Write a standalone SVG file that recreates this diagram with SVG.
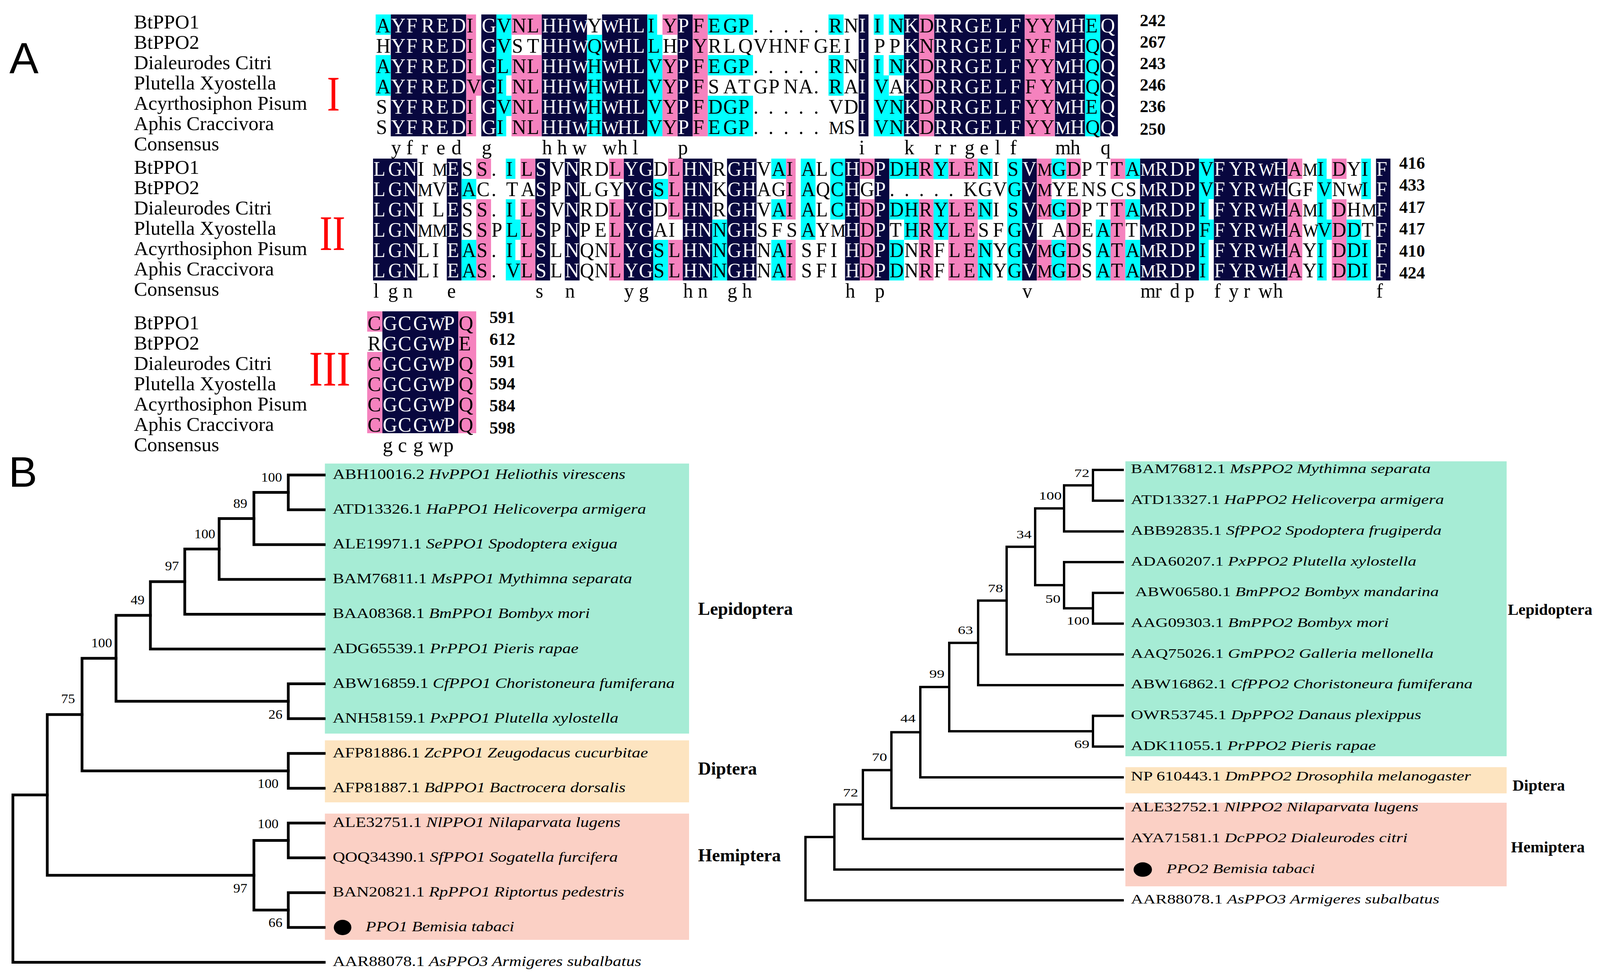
<svg xmlns="http://www.w3.org/2000/svg" width="4146" height="2496" viewBox="0 0 4146 2496">
<style>
text{font-family:"Liberation Serif","Times New Roman",serif}
.lbl{font-size:51px}
.sq{font-size:53px;fill:#000}
.sw{fill:#fff}
.wm{font-size:46px}
.num{font-size:44px;font-weight:bold}
.rom{font-size:128px;fill:#f00}
.pan{font-family:"Liberation Sans",Arial,sans-serif;font-size:112px}
.N{fill:#08073f}.P{fill:#f582be}.C{fill:#00ffff}
.lf{font-size:36px}.rf{font-size:33px}
.bl{font-size:33px;text-anchor:end}.bR{font-size:30px;text-anchor:end}
.cl{font-size:46px;font-weight:bold}
.clr{font-size:41px;font-weight:bold}
.it{font-style:italic}
.br{fill:none;stroke:#000;stroke-width:7;stroke-linecap:square}
.brr{fill:none;stroke:#000;stroke-width:6;stroke-linecap:square}
.gr{fill:#a6ecd5}.pe{fill:#fde4c0}.sa{fill:#fbd0c5}
</style>
<rect width="4146" height="2496" fill="#fff"/>

<g id="panel-A">
<text class="pan" x="24" y="187">A</text>

<g id="labels-block-I" class="lbl">
<text x="343" y="73.3">BtPPO1</text><text x="343" y="125.3">BtPPO2</text><text x="343" y="177.3">Dialeurodes Citri</text><text x="343" y="229.3">Plutella Xyostella</text><text x="343" y="281.3">Acyrthosiphon Pisum</text><text x="343" y="333.3">Aphis Craccivora</text><text x="343" y="385.3">Consensus</text>
</g>
<text class="rom" x="837" y="283" textLength="33" lengthAdjust="spacingAndGlyphs">I</text>

<g id="block-I" transform="translate(961.7 0) scale(0.966 1)">
<g class="N"><rect x="40" y="37" width="200" height="312"/><rect x="280" y="37" width="40" height="312"/><rect x="440" y="37" width="120" height="312"/><rect x="600" y="37" width="120" height="312"/><rect x="800" y="37" width="40" height="312"/><rect x="1280" y="37" width="26" height="312"/><rect x="1400" y="37" width="40" height="312"/><rect x="1480" y="37" width="240" height="312"/><rect x="1800" y="37" width="80" height="312"/><rect x="1920" y="37" width="47" height="312"/></g>
<g id="b1-r1">
<g transform="translate(0 37)"><g class="C"><rect width="40" height="52"/><rect x="320" width="40" height="52"/><rect x="720" width="26" height="52"/><rect x="880" width="120" height="52"/><rect x="1200" width="40" height="52"/><rect x="1320" width="26" height="52"/><rect x="1360" width="40" height="52"/><rect x="1880" width="40" height="52"/></g><g class="P"><rect x="240" width="26" height="52"/><rect x="360" width="80" height="52"/><rect x="760" width="40" height="52"/><rect x="840" width="40" height="52"/><rect x="1440" width="40" height="52"/><rect x="1720" width="80" height="52"/></g></g>
<text class="sq" x="1 41 81 121 161 201 241 281 321 361 401 441 481 521 561 601 641 681 721 761 801 841 881 921 961 1001 1041 1081 1121 1161 1201 1241 1281 1321 1361 1401 1441 1481 1521 1561 1601 1641 1681 1721 1761 1801 1841 1881 1921" y="83.3">A<tspan class="sw">YFRED</tspan>I<tspan class="sw">G</tspan>VNL<tspan class="sw">HH<tspan class="wm">W</tspan></tspan>Y<tspan class="sw"><tspan class="wm">W</tspan>HL</tspan>IY<tspan class="sw">P</tspan>FEGP.....RN<tspan class="sw">I</tspan>IN<tspan class="sw">K</tspan>D<tspan class="sw">RRGELF</tspan>YY<tspan class="sw"><tspan class="wm">M</tspan>H</tspan>E<tspan class="sw">Q</tspan></text>
</g>
<g id="b1-r2">
<g transform="translate(0 89)"><g class="C"><rect x="320" width="40" height="52"/><rect x="560" width="40" height="52"/><rect x="720" width="40" height="52"/><rect x="1880" width="40" height="52"/></g><g class="P"><rect x="240" width="26" height="52"/><rect x="840" width="40" height="52"/><rect x="1440" width="40" height="52"/><rect x="1720" width="80" height="52"/></g></g>
<text class="sq" x="1 41 81 121 161 201 241 281 321 361 401 441 481 521 561 601 641 681 721 761 801 841 881 921 961 1001 1041 1081 1121 1161 1201 1241 1281 1321 1361 1401 1441 1481 1521 1561 1601 1641 1681 1721 1761 1801 1841 1881 1921" y="135.3">H<tspan class="sw">YFRED</tspan>I<tspan class="sw">G</tspan>VST<tspan class="sw">HH<tspan class="wm">W</tspan></tspan>Q<tspan class="sw"><tspan class="wm">W</tspan>HL</tspan>LH<tspan class="sw">P</tspan>YRLQVHNFGEI<tspan class="sw">I</tspan>PP<tspan class="sw">K</tspan>N<tspan class="sw">RRGELF</tspan>YF<tspan class="sw"><tspan class="wm">M</tspan>H</tspan>Q<tspan class="sw">Q</tspan></text>
</g>
<g id="b1-r3">
<g transform="translate(0 141)"><g class="C"><rect width="40" height="52"/><rect x="320" width="40" height="52"/><rect x="560" width="40" height="52"/><rect x="720" width="40" height="52"/><rect x="880" width="120" height="52"/><rect x="1200" width="40" height="52"/><rect x="1320" width="26" height="52"/><rect x="1360" width="40" height="52"/><rect x="1880" width="40" height="52"/></g><g class="P"><rect x="240" width="26" height="52"/><rect x="360" width="80" height="52"/><rect x="760" width="40" height="52"/><rect x="840" width="40" height="52"/><rect x="1440" width="40" height="52"/><rect x="1720" width="80" height="52"/></g></g>
<text class="sq" x="1 41 81 121 161 201 241 281 321 361 401 441 481 521 561 601 641 681 721 761 801 841 881 921 961 1001 1041 1081 1121 1161 1201 1241 1281 1321 1361 1401 1441 1481 1521 1561 1601 1641 1681 1721 1761 1801 1841 1881 1921" y="187.3">A<tspan class="sw">YFRED</tspan>I<tspan class="sw">G</tspan>LNL<tspan class="sw">HH<tspan class="wm">W</tspan></tspan>H<tspan class="sw"><tspan class="wm">W</tspan>HL</tspan>VY<tspan class="sw">P</tspan>FEGP.....RN<tspan class="sw">I</tspan>IN<tspan class="sw">K</tspan>D<tspan class="sw">RRGELF</tspan>YY<tspan class="sw"><tspan class="wm">M</tspan>H</tspan>Q<tspan class="sw">Q</tspan></text>
</g>
<g id="b1-r4">
<g transform="translate(0 193)"><g class="C"><rect width="40" height="52"/><rect x="320" width="26" height="52"/><rect x="560" width="40" height="52"/><rect x="720" width="40" height="52"/><rect x="1200" width="40" height="52"/><rect x="1320" width="40" height="52"/><rect x="1880" width="40" height="52"/></g><g class="P"><rect x="240" width="40" height="52"/><rect x="360" width="80" height="52"/><rect x="760" width="40" height="52"/><rect x="840" width="40" height="52"/><rect x="1440" width="40" height="52"/><rect x="1720" width="80" height="52"/></g></g>
<text class="sq" x="1 41 81 121 161 201 241 281 321 361 401 441 481 521 561 601 641 681 721 761 801 841 881 921 961 1001 1041 1081 1121 1161 1201 1241 1281 1321 1361 1401 1441 1481 1521 1561 1601 1641 1681 1721 1761 1801 1841 1881 1921" y="239.3">A<tspan class="sw">YFRED</tspan>V<tspan class="sw">G</tspan>INL<tspan class="sw">HH<tspan class="wm">W</tspan></tspan>H<tspan class="sw"><tspan class="wm">W</tspan>HL</tspan>VY<tspan class="sw">P</tspan>FSATGPNA.RA<tspan class="sw">I</tspan>VA<tspan class="sw">K</tspan>D<tspan class="sw">RRGELF</tspan>FY<tspan class="sw"><tspan class="wm">M</tspan>H</tspan>Q<tspan class="sw">Q</tspan></text>
</g>
<g id="b1-r5">
<g transform="translate(0 245)"><g class="C"><rect x="320" width="40" height="52"/><rect x="560" width="40" height="52"/><rect x="720" width="40" height="52"/><rect x="880" width="120" height="52"/><rect x="1320" width="80" height="52"/><rect x="1880" width="40" height="52"/></g><g class="P"><rect x="240" width="26" height="52"/><rect x="360" width="80" height="52"/><rect x="760" width="40" height="52"/><rect x="840" width="40" height="52"/><rect x="1440" width="40" height="52"/><rect x="1720" width="80" height="52"/></g></g>
<text class="sq" x="1 41 81 121 161 201 241 281 321 361 401 441 481 521 561 601 641 681 721 761 801 841 881 921 961 1001 1041 1081 1121 1161 1201 1241 1281 1321 1361 1401 1441 1481 1521 1561 1601 1641 1681 1721 1761 1801 1841 1881 1921" y="291.3">S<tspan class="sw">YFRED</tspan>I<tspan class="sw">G</tspan>VNL<tspan class="sw">HH<tspan class="wm">W</tspan></tspan>H<tspan class="sw"><tspan class="wm">W</tspan>HL</tspan>VY<tspan class="sw">P</tspan>FDGP.....VD<tspan class="sw">I</tspan>VN<tspan class="sw">K</tspan>D<tspan class="sw">RRGELF</tspan>YY<tspan class="sw"><tspan class="wm">M</tspan>H</tspan>E<tspan class="sw">Q</tspan></text>
</g>
<g id="b1-r6">
<g transform="translate(0 297)"><g class="C"><rect x="320" width="26" height="52"/><rect x="560" width="40" height="52"/><rect x="720" width="40" height="52"/><rect x="880" width="120" height="52"/><rect x="1320" width="80" height="52"/><rect x="1880" width="40" height="52"/></g><g class="P"><rect x="240" width="26" height="52"/><rect x="360" width="80" height="52"/><rect x="760" width="40" height="52"/><rect x="840" width="40" height="52"/><rect x="1440" width="40" height="52"/><rect x="1720" width="80" height="52"/></g></g>
<text class="sq" x="1 41 81 121 161 201 241 281 321 361 401 441 481 521 561 601 641 681 721 761 801 841 881 921 961 1001 1041 1081 1121 1161 1201 1241 1281 1321 1361 1401 1441 1481 1521 1561 1601 1641 1681 1721 1761 1801 1841 1881 1921" y="343.3">S<tspan class="sw">YFRED</tspan>I<tspan class="sw">G</tspan>INL<tspan class="sw">HH<tspan class="wm">W</tspan></tspan>H<tspan class="sw"><tspan class="wm">W</tspan>HL</tspan>VY<tspan class="sw">P</tspan>FEGP.....<tspan class="wm">M</tspan>S<tspan class="sw">I</tspan>VN<tspan class="sw">K</tspan>D<tspan class="sw">RRGELF</tspan>YY<tspan class="sw"><tspan class="wm">M</tspan>H</tspan>Q<tspan class="sw">Q</tspan></text>
</g>
<text id="b1-consensus" class="sq" y="395.3"><tspan x="41 81 121 161 201">yfred</tspan><tspan x="281">g</tspan><tspan x="441 481 521">hhw</tspan><tspan x="601 641 681">whl</tspan><tspan x="801">p</tspan><tspan x="1281">i</tspan><tspan x="1401">k</tspan><tspan x="1481 1521 1561 1601 1641 1681">rrgelf</tspan><tspan x="1801 1841">mh</tspan><tspan x="1921">q</tspan></text>
</g>
<g id="numbers-I" class="num">
<text x="2918" y="67">242</text><text x="2918" y="122">267</text><text x="2918" y="177">243</text><text x="2918" y="232">246</text><text x="2918" y="287">236</text><text x="2918" y="345">250</text>
</g>

<g id="labels-block-II" class="lbl">
<text x="343" y="445">BtPPO1</text><text x="343" y="497">BtPPO2</text><text x="343" y="549">Dialeurodes Citri</text><text x="343" y="601">Plutella Xyostella</text><text x="343" y="653">Acyrthosiphon Pisum</text><text x="343" y="705">Aphis Craccivora</text><text x="343" y="757">Consensus</text>
</g>
<text class="rom" x="818" y="640" textLength="66" lengthAdjust="spacingAndGlyphs">II</text>

<g id="block-II" transform="translate(955 0) scale(0.944 1)">
<g class="N"><rect y="406" width="120" height="312"/><rect x="200" y="406" width="40" height="312"/><rect x="440" y="406" width="40" height="312"/><rect x="520" y="406" width="40" height="312"/><rect x="680" y="406" width="80" height="312"/><rect x="840" y="406" width="80" height="312"/><rect x="960" y="406" width="80" height="312"/><rect x="1280" y="406" width="40" height="312"/><rect x="1360" y="406" width="40" height="312"/><rect x="1760" y="406" width="40" height="312"/><rect x="2080" y="406" width="160" height="312"/><rect x="2280" y="406" width="200" height="312"/><rect x="2720" y="406" width="39" height="312"/></g>
<g id="b2-r1">
<g transform="translate(0 406)"><g class="P"><rect x="280" width="40" height="52"/><rect x="400" width="40" height="52"/><rect x="640" width="40" height="52"/><rect x="800" width="40" height="52"/><rect x="1120" width="26" height="52"/><rect x="1320" width="40" height="52"/><rect x="1480" width="40" height="52"/><rect x="1560" width="80" height="52"/><rect x="1800" width="40" height="52"/><rect x="1880" width="40" height="52"/><rect x="2000" width="40" height="52"/><rect x="2480" width="40" height="52"/><rect x="2600" width="40" height="52"/></g><g class="C"><rect x="360" width="26" height="52"/><rect x="1080" width="40" height="52"/><rect x="1160" width="40" height="52"/><rect x="1240" width="40" height="52"/><rect x="1400" width="80" height="52"/><rect x="1520" width="40" height="52"/><rect x="1640" width="40" height="52"/><rect x="1720" width="40" height="52"/><rect x="1840" width="40" height="52"/><rect x="2040" width="40" height="52"/><rect x="2240" width="40" height="52"/><rect x="2560" width="26" height="52"/><rect x="2680" width="26" height="52"/></g></g>
<text class="sq" x="1 41 81 121 161 201 241 281 321 361 401 441 481 521 561 601 641 681 721 761 801 841 881 921 961 1001 1041 1081 1121 1161 1201 1241 1281 1321 1361 1401 1441 1481 1521 1561 1601 1641 1681 1721 1761 1801 1841 1881 1921 1961 2001 2041 2081 2121 2161 2201 2241 2281 2321 2361 2401 2441 2481 2521 2561 2601 2641 2681 2721" y="450"><tspan class="sw">LGN</tspan>I<tspan class="wm">M</tspan><tspan class="sw">E</tspan>SS.IL<tspan class="sw">S</tspan>V<tspan class="sw">N</tspan>RDL<tspan class="sw">YG</tspan>DL<tspan class="sw">HN</tspan>R<tspan class="sw">GH</tspan>VAIALC<tspan class="sw">H</tspan>D<tspan class="sw">P</tspan>DHRYLENIS<tspan class="sw">V</tspan><tspan class="wm">M</tspan>GDPTTA<tspan class="sw"><tspan class="wm">M</tspan>RDP</tspan>V<tspan class="sw">FYR<tspan class="wm">W</tspan>H</tspan>A<tspan class="wm">M</tspan>IDYI<tspan class="sw">F</tspan></text>
</g>
<g id="b2-r2">
<g transform="translate(0 458)"><g class="P"><rect x="800" width="40" height="52"/><rect x="1120" width="26" height="52"/><rect x="1800" width="40" height="52"/></g><g class="C"><rect x="240" width="40" height="52"/><rect x="760" width="40" height="52"/><rect x="1160" width="40" height="52"/><rect x="1240" width="40" height="52"/><rect x="1720" width="40" height="52"/><rect x="2240" width="40" height="52"/><rect x="2560" width="40" height="52"/><rect x="2680" width="26" height="52"/></g></g>
<text class="sq" x="1 41 81 121 161 201 241 281 321 361 401 441 481 521 561 601 641 681 721 761 801 841 881 921 961 1001 1041 1081 1121 1161 1201 1241 1281 1321 1361 1401 1441 1481 1521 1561 1601 1641 1681 1721 1761 1801 1841 1881 1921 1961 2001 2041 2081 2121 2161 2201 2241 2281 2321 2361 2401 2441 2481 2521 2561 2601 2641 2681 2721" y="502"><tspan class="sw">LGN</tspan><tspan class="wm">M</tspan>V<tspan class="sw">E</tspan>AC.TA<tspan class="sw">S</tspan>P<tspan class="sw">N</tspan>LGY<tspan class="sw">YG</tspan>SL<tspan class="sw">HN</tspan>K<tspan class="sw">GH</tspan>AGIAQC<tspan class="sw">H</tspan>G<tspan class="sw">P</tspan>.....KGVG<tspan class="sw">V</tspan><tspan class="wm">M</tspan>YENSCS<tspan class="sw"><tspan class="wm">M</tspan>RDP</tspan>V<tspan class="sw">FYR<tspan class="wm">W</tspan>H</tspan>GFVN<tspan class="wm">W</tspan>I<tspan class="sw">F</tspan></text>
</g>
<g id="b2-r3">
<g transform="translate(0 510)"><g class="P"><rect x="280" width="40" height="52"/><rect x="400" width="40" height="52"/><rect x="640" width="40" height="52"/><rect x="800" width="40" height="52"/><rect x="1120" width="26" height="52"/><rect x="1320" width="40" height="52"/><rect x="1480" width="40" height="52"/><rect x="1560" width="80" height="52"/><rect x="1800" width="40" height="52"/><rect x="1880" width="40" height="52"/><rect x="2000" width="40" height="52"/><rect x="2480" width="40" height="52"/><rect x="2600" width="40" height="52"/></g><g class="C"><rect x="360" width="26" height="52"/><rect x="1080" width="40" height="52"/><rect x="1160" width="40" height="52"/><rect x="1240" width="40" height="52"/><rect x="1400" width="80" height="52"/><rect x="1520" width="40" height="52"/><rect x="1640" width="40" height="52"/><rect x="1720" width="40" height="52"/><rect x="1840" width="40" height="52"/><rect x="2040" width="40" height="52"/><rect x="2240" width="26" height="52"/><rect x="2560" width="26" height="52"/></g></g>
<text class="sq" x="1 41 81 121 161 201 241 281 321 361 401 441 481 521 561 601 641 681 721 761 801 841 881 921 961 1001 1041 1081 1121 1161 1201 1241 1281 1321 1361 1401 1441 1481 1521 1561 1601 1641 1681 1721 1761 1801 1841 1881 1921 1961 2001 2041 2081 2121 2161 2201 2241 2281 2321 2361 2401 2441 2481 2521 2561 2601 2641 2681 2721" y="554"><tspan class="sw">LGN</tspan>IL<tspan class="sw">E</tspan>SS.IL<tspan class="sw">S</tspan>V<tspan class="sw">N</tspan>RDL<tspan class="sw">YG</tspan>DL<tspan class="sw">HN</tspan>R<tspan class="sw">GH</tspan>VAIALC<tspan class="sw">H</tspan>D<tspan class="sw">P</tspan>DHRYLENIS<tspan class="sw">V</tspan><tspan class="wm">M</tspan>GDPTTA<tspan class="sw"><tspan class="wm">M</tspan>RDP</tspan>I<tspan class="sw">FYR<tspan class="wm">W</tspan>H</tspan>A<tspan class="wm">M</tspan>IDH<tspan class="wm">M</tspan><tspan class="sw">F</tspan></text>
</g>
<g id="b2-r4">
<g transform="translate(0 562)"><g class="P"><rect x="280" width="40" height="52"/><rect x="400" width="40" height="52"/><rect x="640" width="40" height="52"/><rect x="1320" width="40" height="52"/><rect x="1480" width="40" height="52"/><rect x="1560" width="80" height="52"/><rect x="1880" width="40" height="52"/><rect x="2000" width="40" height="52"/><rect x="2480" width="40" height="52"/><rect x="2600" width="40" height="52"/></g><g class="C"><rect x="360" width="40" height="52"/><rect x="920" width="40" height="52"/><rect x="1160" width="40" height="52"/><rect x="1440" width="40" height="52"/><rect x="1520" width="40" height="52"/><rect x="1720" width="40" height="52"/><rect x="1960" width="40" height="52"/><rect x="2240" width="40" height="52"/><rect x="2560" width="40" height="52"/><rect x="2640" width="40" height="52"/></g></g>
<text class="sq" x="1 41 81 121 161 201 241 281 321 361 401 441 481 521 561 601 641 681 721 761 801 841 881 921 961 1001 1041 1081 1121 1161 1201 1241 1281 1321 1361 1401 1441 1481 1521 1561 1601 1641 1681 1721 1761 1801 1841 1881 1921 1961 2001 2041 2081 2121 2161 2201 2241 2281 2321 2361 2401 2441 2481 2521 2561 2601 2641 2681 2721" y="606"><tspan class="sw">LGN</tspan><tspan class="wm">MM</tspan><tspan class="sw">E</tspan>SSPLL<tspan class="sw">S</tspan>P<tspan class="sw">N</tspan>PEL<tspan class="sw">YG</tspan>AI<tspan class="sw">HN</tspan>N<tspan class="sw">GH</tspan>SFSAY<tspan class="wm">M</tspan><tspan class="sw">H</tspan>D<tspan class="sw">P</tspan>THRYLESFG<tspan class="sw">V</tspan>IADEATT<tspan class="sw"><tspan class="wm">M</tspan>RDP</tspan>F<tspan class="sw">FYR<tspan class="wm">W</tspan>H</tspan>A<tspan class="wm">W</tspan>VDDT<tspan class="sw">F</tspan></text>
</g>
<g id="b2-r5">
<g transform="translate(0 614)"><g class="P"><rect x="280" width="40" height="52"/><rect x="400" width="40" height="52"/><rect x="640" width="40" height="52"/><rect x="800" width="40" height="52"/><rect x="1120" width="26" height="52"/><rect x="1320" width="40" height="52"/><rect x="1480" width="40" height="52"/><rect x="1560" width="80" height="52"/><rect x="1800" width="40" height="52"/><rect x="1880" width="40" height="52"/><rect x="2000" width="40" height="52"/><rect x="2480" width="40" height="52"/><rect x="2600" width="40" height="52"/></g><g class="C"><rect x="240" width="40" height="52"/><rect x="360" width="26" height="52"/><rect x="760" width="40" height="52"/><rect x="920" width="40" height="52"/><rect x="1080" width="40" height="52"/><rect x="1400" width="40" height="52"/><rect x="1640" width="40" height="52"/><rect x="1720" width="40" height="52"/><rect x="1840" width="40" height="52"/><rect x="1960" width="40" height="52"/><rect x="2040" width="40" height="52"/><rect x="2240" width="26" height="52"/><rect x="2560" width="26" height="52"/><rect x="2640" width="40" height="52"/><rect x="2680" width="26" height="52"/></g></g>
<text class="sq" x="1 41 81 121 161 201 241 281 321 361 401 441 481 521 561 601 641 681 721 761 801 841 881 921 961 1001 1041 1081 1121 1161 1201 1241 1281 1321 1361 1401 1441 1481 1521 1561 1601 1641 1681 1721 1761 1801 1841 1881 1921 1961 2001 2041 2081 2121 2161 2201 2241 2281 2321 2361 2401 2441 2481 2521 2561 2601 2641 2681 2721" y="658"><tspan class="sw">LGN</tspan>LI<tspan class="sw">E</tspan>AS.IL<tspan class="sw">S</tspan>L<tspan class="sw">N</tspan>QNL<tspan class="sw">YG</tspan>SL<tspan class="sw">HN</tspan>N<tspan class="sw">GH</tspan>NAISFI<tspan class="sw">H</tspan>D<tspan class="sw">P</tspan>DNRFLENYG<tspan class="sw">V</tspan><tspan class="wm">M</tspan>GDSATA<tspan class="sw"><tspan class="wm">M</tspan>RDP</tspan>I<tspan class="sw">FYR<tspan class="wm">W</tspan>H</tspan>AYIDDI<tspan class="sw">F</tspan></text>
</g>
<g id="b2-r6">
<g transform="translate(0 666)"><g class="P"><rect x="280" width="40" height="52"/><rect x="400" width="40" height="52"/><rect x="640" width="40" height="52"/><rect x="800" width="40" height="52"/><rect x="1120" width="26" height="52"/><rect x="1320" width="40" height="52"/><rect x="1480" width="40" height="52"/><rect x="1560" width="80" height="52"/><rect x="1800" width="40" height="52"/><rect x="1880" width="40" height="52"/><rect x="2000" width="40" height="52"/><rect x="2480" width="40" height="52"/><rect x="2600" width="40" height="52"/></g><g class="C"><rect x="240" width="40" height="52"/><rect x="360" width="40" height="52"/><rect x="760" width="40" height="52"/><rect x="920" width="40" height="52"/><rect x="1080" width="40" height="52"/><rect x="1400" width="40" height="52"/><rect x="1640" width="40" height="52"/><rect x="1720" width="40" height="52"/><rect x="1840" width="40" height="52"/><rect x="1960" width="40" height="52"/><rect x="2040" width="40" height="52"/><rect x="2240" width="26" height="52"/><rect x="2560" width="26" height="52"/><rect x="2640" width="40" height="52"/><rect x="2680" width="26" height="52"/></g></g>
<text class="sq" x="1 41 81 121 161 201 241 281 321 361 401 441 481 521 561 601 641 681 721 761 801 841 881 921 961 1001 1041 1081 1121 1161 1201 1241 1281 1321 1361 1401 1441 1481 1521 1561 1601 1641 1681 1721 1761 1801 1841 1881 1921 1961 2001 2041 2081 2121 2161 2201 2241 2281 2321 2361 2401 2441 2481 2521 2561 2601 2641 2681 2721" y="710"><tspan class="sw">LGN</tspan>LI<tspan class="sw">E</tspan>AS.VL<tspan class="sw">S</tspan>L<tspan class="sw">N</tspan>QNL<tspan class="sw">YG</tspan>SL<tspan class="sw">HN</tspan>N<tspan class="sw">GH</tspan>NAISFI<tspan class="sw">H</tspan>D<tspan class="sw">P</tspan>DNRFLENYG<tspan class="sw">V</tspan><tspan class="wm">M</tspan>GDSATA<tspan class="sw"><tspan class="wm">M</tspan>RDP</tspan>I<tspan class="sw">FYR<tspan class="wm">W</tspan>H</tspan>AYIDDI<tspan class="sw">F</tspan></text>
</g>
<text id="b2-consensus" class="sq" y="762"><tspan x="1 41 81">lgn</tspan><tspan x="201">e</tspan><tspan x="441">s</tspan><tspan x="521">n</tspan><tspan x="681 721">yg</tspan><tspan x="841 881">hn</tspan><tspan x="961 1001">gh</tspan><tspan x="1281">h</tspan><tspan x="1361">p</tspan><tspan x="1761">v</tspan><tspan x="2081 2121 2161 2201">mrdp</tspan><tspan x="2281 2321 2361 2401 2441">fyrwh</tspan><tspan x="2721">f</tspan></text>
</g>
<g id="numbers-II" class="num">
<text x="3582" y="432">416</text><text x="3582" y="488">433</text><text x="3582" y="545">417</text><text x="3582" y="600">417</text><text x="3582" y="657">410</text><text x="3582" y="713">424</text>
</g>

<g id="labels-block-III" class="lbl">
<text x="343" y="843">BtPPO1</text><text x="343" y="895">BtPPO2</text><text x="343" y="947">Dialeurodes Citri</text><text x="343" y="999">Plutella Xyostella</text><text x="343" y="1051">Acyrthosiphon Pisum</text><text x="343" y="1103">Aphis Craccivora</text><text x="343" y="1155">Consensus</text>
</g>
<text class="rom" x="791" y="987" textLength="106" lengthAdjust="spacingAndGlyphs">III</text>

<g id="block-III" transform="translate(940 0) scale(0.9725 1)">
<rect class="N" x="40" y="797" width="200" height="312"/>
<g class="P"><rect y="797" width="40" height="52"/><rect x="240" y="797" width="47" height="52"/><rect x="240" y="849" width="47" height="52"/><rect y="901" width="40" height="52"/><rect x="240" y="901" width="47" height="52"/><rect y="953" width="40" height="52"/><rect x="240" y="953" width="47" height="52"/><rect y="1005" width="40" height="52"/><rect x="240" y="1005" width="47" height="52"/><rect y="1057" width="40" height="52"/><rect x="240" y="1057" width="47" height="52"/></g>
<text class="sq" x="1 41 81 121 161 201 241" y="845">C<tspan class="sw">GCG<tspan class="wm">W</tspan>P</tspan>Q</text>
<text class="sq" x="1 41 81 121 161 201 241" y="897">R<tspan class="sw">GCG<tspan class="wm">W</tspan>P</tspan>E</text>
<text class="sq" x="1 41 81 121 161 201 241" y="949">C<tspan class="sw">GCG<tspan class="wm">W</tspan>P</tspan>Q</text>
<text class="sq" x="1 41 81 121 161 201 241" y="1001">C<tspan class="sw">GCG<tspan class="wm">W</tspan>P</tspan>Q</text>
<text class="sq" x="1 41 81 121 161 201 241" y="1053">C<tspan class="sw">GCG<tspan class="wm">W</tspan>P</tspan>Q</text>
<text class="sq" x="1 41 81 121 161 201 241" y="1105">C<tspan class="sw">GCG<tspan class="wm">W</tspan>P</tspan>Q</text>
<text id="b3-consensus" class="sq" y="1157"><tspan x="41 81 121 161 201">gcgwp</tspan></text>
</g>
<g id="numbers-III" class="num">
<text x="1253" y="827">591</text><text x="1253" y="883">612</text><text x="1253" y="940">591</text><text x="1253" y="997">594</text><text x="1253" y="1053">584</text><text x="1253" y="1110">598</text>
</g>
</g>

<g id="panel-B">
<text class="pan" x="22" y="1246" style="font-size:110px">B</text>

<g id="left-tree">
<g id="left-clade-boxes">
<rect class="gr" x="831.7" y="1186.7" width="932.3" height="691.3"/>
<rect class="pe" x="831.7" y="1895.3" width="932.3" height="158.7"/>
<rect class="sa" x="831.7" y="2082.8" width="932.3" height="323.2"/>
</g>
<g id="left-connectors" class="br">
<path d="M830 1216H738V1305.1H830"/>
<path d="M738 1260.6H650V1394.2H830"/>
<path d="M650 1327.4H561V1483.3H830"/>
<path d="M561 1405.4H473V1572.4H830"/>
<path d="M473 1488.9H385V1661.5H830"/>
<path d="M385 1575.2H297V1795.2H738"/>
<path d="M830 1750.6H738V1839.7H830"/>
<path d="M297 1685.2H210V1973.4H738"/>
<path d="M830 1928.8H738V2017.9H830"/>
<path d="M210 1829.3H121V2240.7H650"/>
<path d="M738 2151.6H650V2329.8H738"/>
<path d="M830 2107H738V2196.1H830"/>
<path d="M830 2285.2H738V2374.3H830"/>
<path d="M121 2035H33V2463.4H830"/>
</g>
<g id="left-bootstrap" class="bl" transform="scale(1.08 1)">
<text x="668.5" y="1233">100</text>
<text x="586.1" y="1300">89</text>
<text x="510.2" y="1378">100</text>
<text x="424.1" y="1460">97</text>
<text x="342.6" y="1547">49</text>
<text x="265.7" y="1657">100</text>
<text x="177.8" y="1800">75</text>
<text x="669.4" y="1840">26</text>
<text x="660.2" y="2017">100</text>
<text x="660.2" y="2120">100</text>
<text x="586.1" y="2285">97</text>
<text x="669.4" y="2373">66</text>
</g>
<g id="leafL-ABH10016.2" class="lf" transform="scale(1.22 1)"><text x="698.1" y="1226">ABH10016.2 <tspan class="it">HvPPO1 Heliothis virescens</tspan></text></g>
<g id="leafL-ATD13326.1" class="lf" transform="scale(1.22 1)"><text x="698.1" y="1315.1">ATD13326.1 <tspan class="it">HaPPO1 Helicoverpa armigera</tspan></text></g>
<g id="leafL-ALE19971.1" class="lf" transform="scale(1.22 1)"><text x="698.1" y="1404.2">ALE19971.1 <tspan class="it">SePPO1 Spodoptera exigua</tspan></text></g>
<g id="leafL-BAM76811.1" class="lf" transform="scale(1.22 1)"><text x="698.1" y="1493.3">BAM76811.1 <tspan class="it">MsPPO1 Mythimna separata</tspan></text></g>
<g id="leafL-BAA08368.1" class="lf" transform="scale(1.22 1)"><text x="698.1" y="1582.4">BAA08368.1 <tspan class="it">BmPPO1 Bombyx mori</tspan></text></g>
<g id="leafL-ADG65539.1" class="lf" transform="scale(1.22 1)"><text x="698.1" y="1671.5">ADG65539.1 <tspan class="it">PrPPO1 Pieris rapae</tspan></text></g>
<g id="leafL-ABW16859.1" class="lf" transform="scale(1.22 1)"><text x="698.1" y="1760.6">ABW16859.1 <tspan class="it">CfPPO1 Choristoneura fumiferana</tspan></text></g>
<g id="leafL-ANH58159.1" class="lf" transform="scale(1.22 1)"><text x="698.1" y="1849.7">ANH58159.1 <tspan class="it">PxPPO1 Plutella xylostella</tspan></text></g>
<g id="leafL-AFP81886.1" class="lf" transform="scale(1.22 1)"><text x="698.1" y="1938.8">AFP81886.1 <tspan class="it">ZcPPO1 Zeugodacus cucurbitae</tspan></text></g>
<g id="leafL-AFP81887.1" class="lf" transform="scale(1.22 1)"><text x="698.1" y="2027.9">AFP81887.1 <tspan class="it">BdPPO1 Bactrocera dorsalis</tspan></text></g>
<g id="leafL-ALE32751.1" class="lf" transform="scale(1.22 1)"><text x="698.1" y="2117">ALE32751.1 <tspan class="it">NlPPO1 Nilaparvata lugens</tspan></text></g>
<g id="leafL-QOQ34390.1" class="lf" transform="scale(1.22 1)"><text x="698.1" y="2206.1">QOQ34390.1 <tspan class="it">SfPPO1 Sogatella furcifera</tspan></text></g>
<g id="leafL-BAN20821.1" class="lf" transform="scale(1.22 1)"><text x="698.1" y="2295.2">BAN20821.1 <tspan class="it">RpPPO1 Riptortus pedestris</tspan></text></g>
<g id="leafL-PPO1-Bemisia">
<ellipse cx="877" cy="2374.3" rx="22.5" ry="19.6" fill="#000"/>
<g class="lf" transform="scale(1.22 1)"><text class="it" x="767.2" y="2384.3">PPO1 Bemisia tabaci</text></g>
</g>
<g id="leafL-AAR88078.1" class="lf" transform="scale(1.22 1)"><text x="698.1" y="2473.4">AAR88078.1 <tspan class="it">AsPPO3 Armigeres subalbatus</tspan></text></g>
<g id="left-clade-labels" class="cl">
<text x="1787" y="1574">Lepidoptera</text>
<text x="1787" y="1983">Diptera</text>
<text x="1787" y="2205">Hemiptera</text>
</g>
</g>

<g id="right-tree">
<g id="right-clade-boxes">
<rect class="gr" x="2881" y="1181" width="976" height="755"/>
<rect class="pe" x="2881" y="1964" width="976" height="67"/>
<rect class="sa" x="2881" y="2055" width="976" height="214"/>
</g>
<g id="right-connectors" class="brr">
<path d="M2874 1203H2798V1281.7H2874"/>
<path d="M2798 1242.4H2724V1360.4H2874"/>
<path d="M2874 1517.8H2798V1596.5H2874"/>
<path d="M2874 1439.1H2724V1557.2H2798"/>
<path d="M2724 1301.4H2650V1498.1H2724"/>
<path d="M2650 1399.8H2577V1675.2H2874"/>
<path d="M2577 1537.5H2504V1753.9H2874"/>
<path d="M2874 1832.6H2798V1911.3H2874"/>
<path d="M2504 1645.7H2430V1872H2798"/>
<path d="M2430 1758.8H2356V1990H2874"/>
<path d="M2356 1874.4H2282V2068.7H2874"/>
<path d="M2282 1971.6H2209V2147.4H2874"/>
<path d="M2209 2059.5H2136V2226.1H2874"/>
<path d="M2136 2142.8H2062V2304.8H2874"/>
</g>
<g id="right-bootstrap" class="bR" transform="scale(1.3 1)">
<text x="2145.4" y="1221">72</text>
<text x="2090.8" y="1279">100</text>
<text x="2031.5" y="1378">34</text>
<text x="1975.4" y="1516">78</text>
<text x="2088.5" y="1543">50</text>
<text x="2145.4" y="1599">100</text>
<text x="1916.2" y="1623">63</text>
<text x="1860" y="1735">99</text>
<text x="1803.1" y="1849">44</text>
<text x="2145.4" y="1915">69</text>
<text x="1746.9" y="1948">70</text>
<text x="1690" y="2039">72</text>
</g>
<g id="leafR-BAM76812.1" class="rf" transform="scale(1.33 1)"><text x="2176.7" y="1211.5">BAM76812.1 <tspan class="it">MsPPO2 Mythimna separata</tspan></text></g>
<g id="leafR-ATD13327.1" class="rf" transform="scale(1.33 1)"><text x="2176.7" y="1290.2">ATD13327.1 <tspan class="it">HaPPO2 Helicoverpa armigera</tspan></text></g>
<g id="leafR-ABB92835.1" class="rf" transform="scale(1.33 1)"><text x="2176.7" y="1368.9">ABB92835.1 <tspan class="it">SfPPO2 Spodoptera frugiperda</tspan></text></g>
<g id="leafR-ADA60207.1" class="rf" transform="scale(1.33 1)"><text x="2176.7" y="1447.6">ADA60207.1 <tspan class="it">PxPPO2 Plutella xylostella</tspan></text></g>
<g id="leafR-ABW06580.1" class="rf" transform="scale(1.33 1)"><text x="2185" y="1526.3">ABW06580.1 <tspan class="it">BmPPO2 Bombyx mandarina</tspan></text></g>
<g id="leafR-AAG09303.1" class="rf" transform="scale(1.33 1)"><text x="2176.7" y="1605">AAG09303.1 <tspan class="it">BmPPO2 Bombyx mori</tspan></text></g>
<g id="leafR-AAQ75026.1" class="rf" transform="scale(1.33 1)"><text x="2176.7" y="1683.7">AAQ75026.1 <tspan class="it">GmPPO2 Galleria mellonella</tspan></text></g>
<g id="leafR-ABW16862.1" class="rf" transform="scale(1.33 1)"><text x="2176.7" y="1762.4">ABW16862.1 <tspan class="it">CfPPO2 Choristoneura fumiferana</tspan></text></g>
<g id="leafR-OWR53745.1" class="rf" transform="scale(1.33 1)"><text x="2176.7" y="1841.1">OWR53745.1 <tspan class="it">DpPPO2 Danaus plexippus</tspan></text></g>
<g id="leafR-ADK11055.1" class="rf" transform="scale(1.33 1)"><text x="2176.7" y="1919.8">ADK11055.1 <tspan class="it">PrPPO2 Pieris rapae</tspan></text></g>
<g id="leafR-NP610443.1" class="rf" transform="scale(1.33 1)"><text x="2176.7" y="1998.5">NP 610443.1 <tspan class="it">DmPPO2 Drosophila melanogaster</tspan></text></g>
<g id="leafR-ALE32752.1" class="rf" transform="scale(1.33 1)"><text x="2176.7" y="2077.2">ALE32752.1 <tspan class="it">NlPPO2 Nilaparvata lugens</tspan></text></g>
<g id="leafR-AYA71581.1" class="rf" transform="scale(1.33 1)"><text x="2176.7" y="2155.9">AYA71581.1 <tspan class="it">DcPPO2 Dialeurodes citri</tspan></text></g>
<g id="leafR-PPO2-Bemisia">
<ellipse cx="2925.5" cy="2226.1" rx="23.5" ry="18.5" fill="#000"/>
<g class="rf" transform="scale(1.33 1)"><text class="it" x="2245.1" y="2234.6">PPO2 Bemisia tabaci</text></g>
</g>
<g id="leafR-AAR88078.1" class="rf" transform="scale(1.33 1)"><text x="2176.7" y="2313.3">AAR88078.1 <tspan class="it">AsPPO3 Armigeres subalbatus</tspan></text></g>
<g id="right-clade-labels" class="clr">
<text x="3860" y="1574">Lepidoptera</text>
<text x="3872" y="2024">Diptera</text>
<text x="3868" y="2182">Hemiptera</text>
</g>
</g>
</g>
</svg>
